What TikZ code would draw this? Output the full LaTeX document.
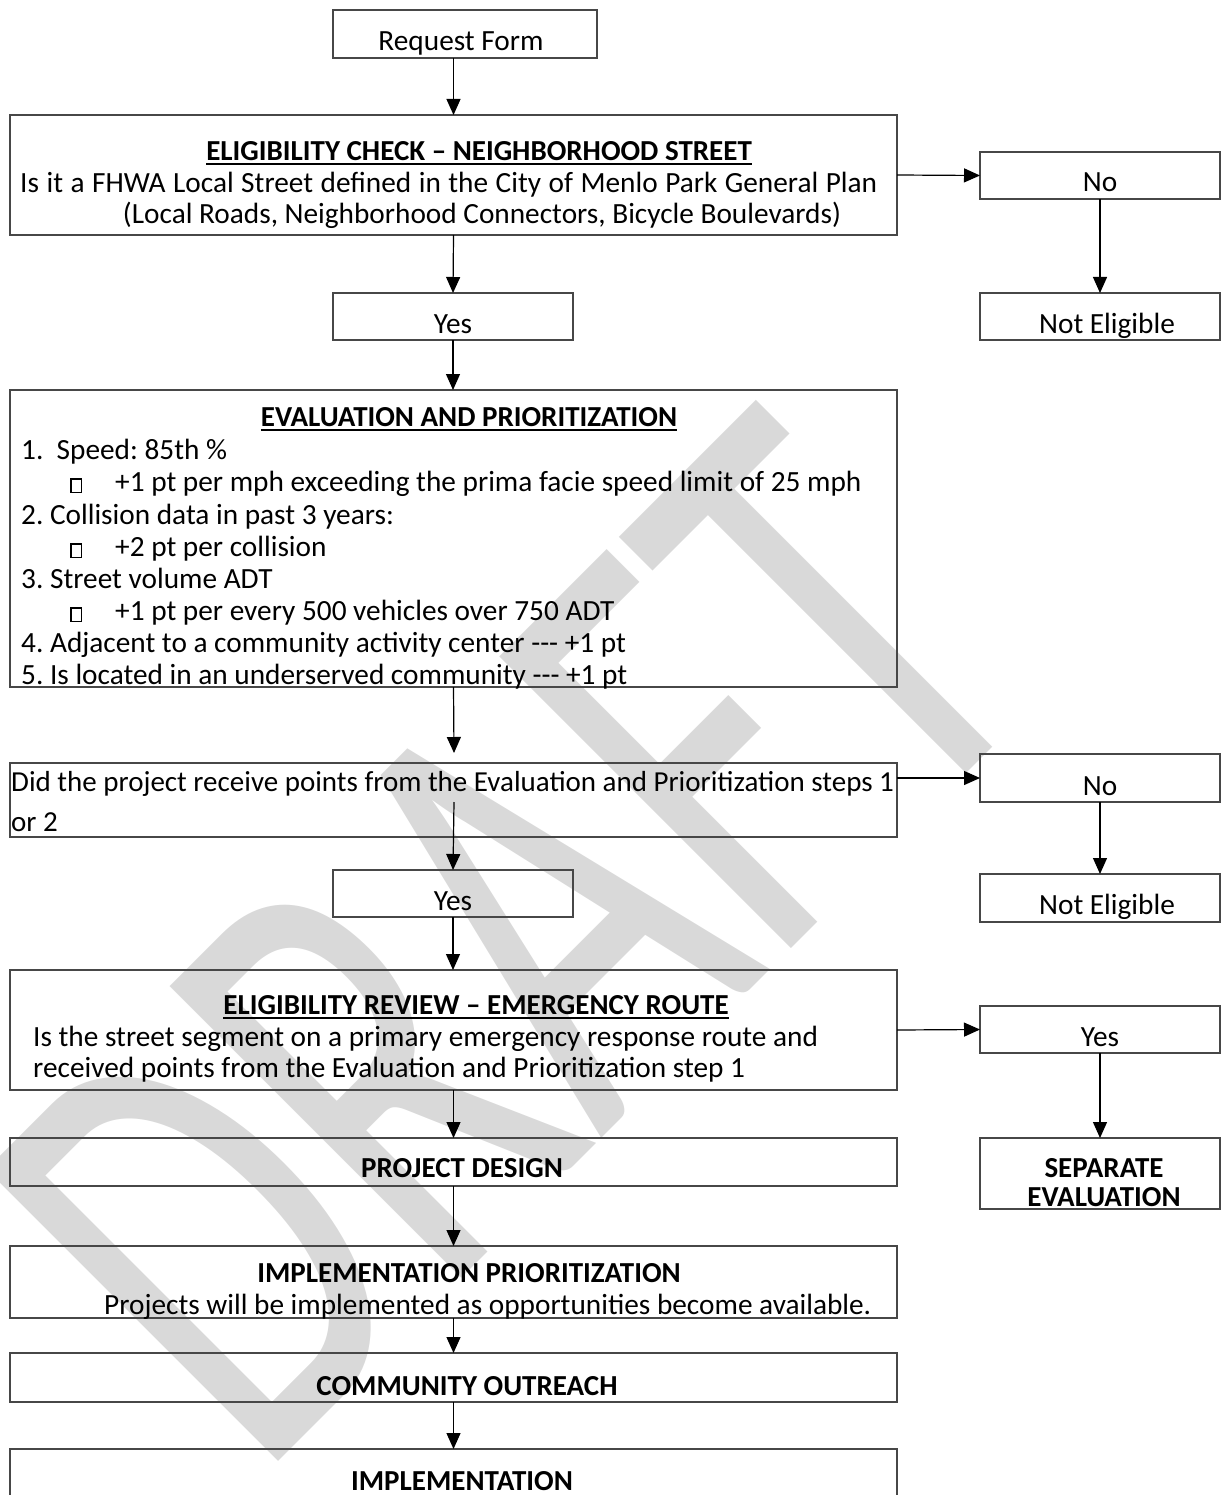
\documentclass[tikz,border=0pt]{standalone}
\usepackage{fontspec}
\setmainfont{Carlito}
\usetikzlibrary{arrows.meta}
\frenchspacing
\newsavebox\ulbox
\newcommand\myul[1]{\sbox\ulbox{#1}\rlap{\usebox\ulbox}\rule[-4.5pt]{\wd\ulbox}{2pt}}
\newcommand\emptybullet{\raisebox{-1pt}{\setlength{\fboxsep}{0pt}\setlength{\fboxrule}{1.4pt}\fbox{\rule{0pt}{12.5pt}\hspace{9pt}}}}
\definecolor{wmgray}{RGB}{217,217,217}
\begin{document}
\begin{tikzpicture}[x=1pt,y=-1pt,
  boxst/.style={draw=black!72, line width=1.5pt, inner sep=0pt, outer sep=0pt, anchor=north west},
  txt/.style={inner sep=0pt, font=\fontsize{29.3}{33}\selectfont, text=black},
  btxt/.style={inner sep=0pt, font=\fontsize{29}{33}\selectfont\bfseries, text=black},
  conn/.style={line width=1.2pt, draw=black, -{Triangle[length=16pt,width=14pt]}}]
\useasboundingbox (0,0) rectangle (1223,1495);
% watermark
\node[rotate=45, anchor=base, inner sep=0pt, text=wmgray, font=\fontsize{643}{643}\selectfont] (wmark) at (655,1085) {\scalebox{0.65}[1]{DRAFT}};
% boxes
\node[boxst, minimum width=264pt, minimum height=48pt] (req) at (333,10) {};
\node[boxst, minimum width=887pt, minimum height=120pt] (elig) at (10,115) {};
\node[boxst, minimum width=240pt, minimum height=47pt] (no1) at (980,152) {};
\node[boxst, minimum width=240pt, minimum height=47pt] (ne1) at (980,293) {};
\node[boxst, minimum width=240pt, minimum height=47pt] (yes1) at (333,293) {};
\node[boxst, minimum width=887pt, minimum height=297pt] (eval) at (10,390) {};
\node[boxst, minimum width=887pt, minimum height=74pt] (did) at (10,763) {};
\node[boxst, minimum width=240pt, minimum height=48pt] (no2) at (980,754) {};
\node[boxst, minimum width=240pt, minimum height=48pt] (ne2) at (980,874) {};
\node[boxst, minimum width=240pt, minimum height=47pt] (yes2) at (333,870) {};
\node[boxst, minimum width=887pt, minimum height=120pt] (rev) at (10,970) {};
\node[boxst, minimum width=240pt, minimum height=47pt] (yes3) at (980,1006) {};
\node[boxst, minimum width=240pt, minimum height=71pt] (sep) at (980,1138) {};
\node[boxst, minimum width=887pt, minimum height=48pt] (pd) at (10,1138) {};
\node[boxst, minimum width=887pt, minimum height=72pt] (ip) at (10,1246) {};
\node[boxst, minimum width=887pt, minimum height=49pt] (co) at (10,1353) {};
\node[boxst, minimum width=887pt, minimum height=80pt] (impl) at (10,1449) {};
% texts
\node[txt, anchor=base] (t-req) at (461,51) {Request Form};
\node[btxt, anchor=base] (t-elig0) at (479,161) {\myul{ELIGIBILITY CHECK – NEIGHBORHOOD STREET}};
\node[txt, anchor=base west] (t-elig1) at (20,193) {\makebox[857pt][s]{Is it a FHWA Local Street defined in the City of Menlo Park General Plan}};
\node[txt, anchor=base] (t-elig2) at (482,224) {(Local Roads, Neighborhood Connectors, Bicycle Boulevards)};
\node[txt, anchor=base] (t-no1) at (1100,192) {No};
\node[txt, anchor=base] (t-ne1) at (1107,333) {Not Eligible};
\node[txt, anchor=base] (t-yes1) at (453,333) {Yes};
\node[btxt, anchor=base] (t-eval0) at (469,426) {\myul{EVALUATION AND PRIORITIZATION}};
\node[txt, anchor=base west] (t-eval1) at (21,459) {1.\ \ Speed: 85th \%};
\node[txt, anchor=base west] (t-eval2) at (70,491) {\makebox[45pt][l]{\emptybullet}+1 pt per mph exceeding the prima facie speed limit of 25 mph};
\node[txt, anchor=base west] (t-eval3) at (21,524) {2. Collision data in past 3 years:};
\node[txt, anchor=base west] (t-eval4) at (70,556) {\makebox[45pt][l]{\emptybullet}+2 pt per collision};
\node[txt, anchor=base west] (t-eval5) at (21,588) {3. Street volume ADT};
\node[txt, anchor=base west] (t-eval6) at (70,620) {\makebox[45pt][l]{\emptybullet}+1 pt per every 500 vehicles over 750 ADT};
\node[txt, anchor=base west] (t-eval7) at (21,652) {4. Adjacent to a community activity center -{}-{}- +1 pt};
\node[txt, anchor=base west] (t-eval8) at (21,684) {5. Is located in an underserved community -{}-{}- +1 pt};
\node[txt, anchor=base west, font=\fontsize{29}{33}\selectfont] (t-did1) at (11,791) {Did the project receive points from the Evaluation and Prioritization steps 1};
\node[txt, anchor=base west, font=\fontsize{29}{33}\selectfont] (t-did2) at (11,831) {or 2};
\node[txt, anchor=base] (t-no2) at (1100,795) {No};
\node[txt, anchor=base] (t-ne2) at (1107,914) {Not Eligible};
\node[txt, anchor=base] (t-yes2) at (453,910) {Yes};
\node[btxt, anchor=base] (t-rev0) at (476,1014) {\myul{ELIGIBILITY REVIEW – EMERGENCY ROUTE}};
\node[txt, anchor=base west] (t-rev1) at (33,1046) {Is the street segment on a primary emergency response route and};
\node[txt, anchor=base west] (t-rev2) at (33,1077) {received points from the Evaluation and Prioritization step 1};
\node[txt, anchor=base] (t-yes3) at (1100,1046) {Yes};
\node[btxt, anchor=base] (t-sep1) at (1104,1177) {SEPARATE};
\node[btxt, anchor=base] (t-sep2) at (1104,1206) {EVALUATION};
\node[btxt, anchor=base] (t-pd) at (462,1177) {PROJECT DESIGN};
\node[btxt, anchor=base] (t-ip1) at (469,1282) {IMPLEMENTATION PRIORITIZATION};
\node[txt, anchor=base west] (t-ip2) at (104,1314) {Projects will be implemented as opportunities become available.};
\node[btxt, anchor=base] (t-co) at (467,1395) {COMMUNITY OUTREACH};
\node[btxt, anchor=base] (t-impl) at (462,1490) {IMPLEMENTATION};
% connectors
\coordinate (didtop) at (454,753);
\coordinate (didin) at (454,802);
\draw[conn] (req.south -| elig.north) -- (elig.north);
\draw[conn] (elig.south) -- (yes1.north);
\draw[conn] (yes1.south) -- (eval.north -| yes1.south);
\draw[conn] (eval.south) -- (didtop);
\draw[conn] (didin) -- (yes2.north);
\draw[conn] (yes2.south) -- (rev.north -| yes2.south);
\draw[conn] (rev.south) -- (pd.north);
\draw[conn] (pd.south) -- (ip.north);
\draw[conn] (ip.south) -- (co.north);
\draw[conn] (co.south) -- (impl.north);
\draw[conn] (elig.east) -- (no1.west);
\draw[conn] (no1.south) -- (ne1.north);
\draw[conn] (did.east |- no2.west) -- (no2.west);
\draw[conn] (no2.south) -- (ne2.north);
\draw[conn] (rev.east) -- (yes3.west);
\draw[conn] (yes3.south) -- (sep.north);
\end{tikzpicture}
\end{document}
